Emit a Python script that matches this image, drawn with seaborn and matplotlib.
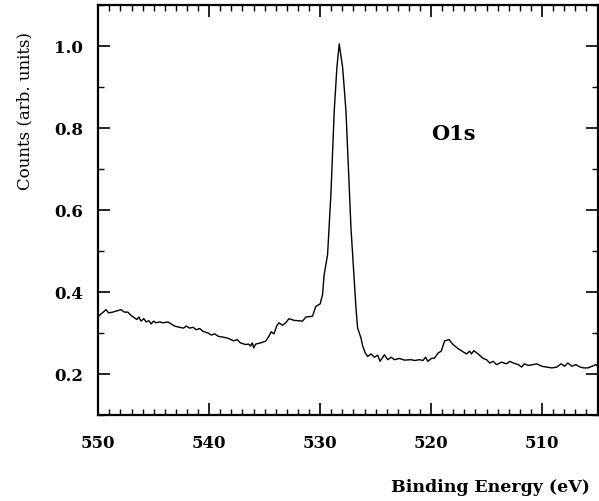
import matplotlib
matplotlib.use("Agg")
import matplotlib.pyplot as plt
import seaborn as sns
import pandas as pd
from matplotlib.ticker import MultipleLocator

energy = [550.00, 549.91, 549.55, 549.30, 549.06, 548.70, 547.95, 547.65, 547.34,
          547.04, 546.74, 546.52, 546.34, 546.14, 545.89, 545.68, 545.44, 545.23,
          545.02, 544.78, 544.48, 544.17, 543.72, 543.42, 543.12, 542.67, 542.31,
          542.06, 541.76, 541.46, 541.16, 540.86, 540.55, 540.10, 539.80, 539.50,
          539.19, 538.74, 538.38, 537.78, 537.48, 537.18, 536.72, 536.43, 536.27,
          536.12, 535.97, 535.82, 535.37, 534.91, 534.62, 534.40, 534.16, 533.92,
          533.71, 533.40, 533.10, 532.81, 532.35, 531.59, 531.29, 530.69, 530.39,
          530.00, 529.78, 529.64, 529.33, 529.03, 528.73, 528.49, 528.28, 527.97,
          527.67, 527.22, 526.92, 526.77, 526.62, 526.32, 526.16, 525.93, 525.71,
          525.41, 525.11, 524.81, 524.60, 524.21, 523.90, 523.60, 523.30, 522.85,
          522.40, 521.79, 521.49, 521.04, 520.73, 520.50, 520.28, 519.98, 519.68,
          519.38, 519.08, 518.78, 518.38, 518.02, 517.57, 517.11, 516.81, 516.52,
          516.36, 516.15, 515.76, 515.30, 515.00, 514.71, 514.40, 514.10, 513.65,
          513.19, 512.90, 512.59, 512.14, 511.84, 511.59, 511.23, 510.78, 510.48,
          510.03, 509.57, 509.12, 508.67, 508.28, 507.97, 507.67, 507.31, 506.95,
          506.56, 506.25, 505.86, 505.50, 505.14, 504.90]
counts = [0.338, 0.342, 0.350, 0.356, 0.348, 0.350, 0.356, 0.350, 0.350,
          0.342, 0.336, 0.332, 0.338, 0.328, 0.334, 0.326, 0.329, 0.321,
          0.328, 0.324, 0.326, 0.324, 0.326, 0.321, 0.316, 0.313, 0.311,
          0.316, 0.311, 0.313, 0.307, 0.310, 0.303, 0.299, 0.294, 0.297,
          0.291, 0.289, 0.287, 0.280, 0.283, 0.275, 0.271, 0.272, 0.267,
          0.275, 0.263, 0.272, 0.275, 0.279, 0.291, 0.302, 0.297, 0.316,
          0.324, 0.318, 0.324, 0.334, 0.330, 0.328, 0.338, 0.340, 0.364,
          0.370, 0.393, 0.441, 0.490, 0.637, 0.840, 0.946, 1.004, 0.946,
          0.840, 0.555, 0.426, 0.360, 0.311, 0.287, 0.267, 0.250, 0.242,
          0.248, 0.240, 0.245, 0.230, 0.246, 0.234, 0.240, 0.234, 0.237,
          0.233, 0.234, 0.232, 0.234, 0.232, 0.240, 0.230, 0.237, 0.238,
          0.250, 0.255, 0.280, 0.283, 0.271, 0.261, 0.253, 0.248, 0.255,
          0.248, 0.256, 0.248, 0.237, 0.234, 0.226, 0.230, 0.222, 0.228,
          0.224, 0.230, 0.226, 0.222, 0.216, 0.224, 0.220, 0.222, 0.224,
          0.218, 0.216, 0.214, 0.216, 0.224, 0.218, 0.226, 0.218, 0.222,
          0.216, 0.214, 0.214, 0.218, 0.222, 0.216]

x_ticks = [550, 540, 530, 520, 510]
y_ticks = [0.2, 0.4, 0.6, 0.8, 1.0]

df = pd.DataFrame({"Binding Energy (eV)": energy, "Counts": counts})

sns.set_style("ticks")
plt.rcParams["font.family"] = ["DejaVu Serif"]
plt.rcParams["text.color"] = "black"
plt.rcParams["axes.labelcolor"] = "black"
plt.rcParams["xtick.color"] = "black"
plt.rcParams["ytick.color"] = "black"

fig = plt.figure(figsize=(5.99, 5.02), dpi=100)
ax = fig.add_axes([0.164, 0.172, 0.8335, 0.817])

sns.lineplot(data=df, x="Binding Energy (eV)", y="Counts", ax=ax,
             color="black", linewidth=1.0, sort=False, estimator=None)

ax.set_xlim(550, 505)
ax.set_ylim(0.1, 1.1)
ax.set_xticks(x_ticks)
ax.set_xticklabels([str(t) for t in x_ticks])
ax.set_yticks(y_ticks)
ax.set_yticklabels([f"{t:.1f}" for t in y_ticks])
ax.xaxis.set_minor_locator(MultipleLocator(1))
ax.yaxis.set_minor_locator(MultipleLocator(0.1))

ax.tick_params(axis="both", which="both", direction="in", top=True, right=True,
               colors="black", labelcolor="black")
ax.tick_params(axis="both", which="major", length=8.5, width=1.2, labelsize=12)
ax.tick_params(axis="x", which="minor", length=4.3, width=1.0)
ax.tick_params(axis="y", which="minor", length=4.3, width=1.0)
ax.tick_params(axis="x", which="major", pad=14)
ax.tick_params(axis="y", which="major", pad=11)
for lab in ax.get_xticklabels() + ax.get_yticklabels():
    lab.set_fontweight("bold")

for s in ax.spines.values():
    s.set_linewidth(1.6)
    s.set_color("black")

ax.set_xlabel("Binding Energy (eV)", fontsize=12.5, fontweight="bold",
              ha="right", va="center", color="black")
ax.xaxis.set_label_coords(0.985, -0.176)
ax.set_ylabel("Counts (arb. units)", fontsize=12, va="center", color="black")
ax.yaxis.set_label_coords(-0.147, 0.743)

ax.text(518.0, 0.787, "O1s", fontsize=15, fontweight="bold", ha="center",
        va="center", color="black")

fig.savefig("out.png", dpi=100)
